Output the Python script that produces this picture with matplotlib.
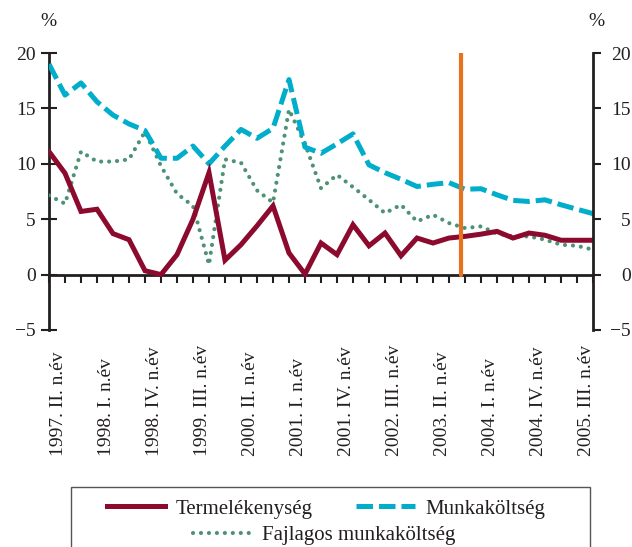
#!/usr/bin/env python3
"""Termelékenység, munkaköltség és fajlagos munkaköltség negyedévente (%)."""

import matplotlib

matplotlib.use("Agg")
import matplotlib.pyplot as plt
from matplotlib.lines import Line2D
from matplotlib.patches import Rectangle

plt.rcParams["font.family"] = ["Liberation Serif", "DejaVu Serif"]
plt.rcParams["font.size"] = 14

TEXT = "#231f20"
RED = "#8b0a2e"
BLUE = "#00aecb"
GREEN = "#4e9275"
ORANGE = "#e8731e"

# 1997 II. n.év ... 2005 IV. n.év, one value per quarter
termelekenyseg = [11.1, 9.15, 5.7, 5.9, 3.7, 3.15, 0.35, 0.0, 1.8, 5.0,
                  9.2, 1.3, 2.7, 4.4, 6.2, 1.95, 0.05, 2.85, 1.8, 4.5,
                  2.6, 3.75, 1.7, 3.3, 2.85, 3.3, 3.45, 3.65, 3.9, 3.3,
                  3.75, 3.55, 3.1, 3.1, 3.1]
munkakoltseg = [19.0, 16.2, 17.3, 15.6, 14.4, 13.6, 13.0, 10.5, 10.5, 11.6,
                10.0, 11.6, 13.1, 12.3, 13.2, 17.6, 11.5, 10.95, 11.8, 12.7,
                9.9, 9.2, 8.6, 7.95, 8.15, 8.3, 7.7, 7.75, 7.2, 6.7,
                6.6, 6.75, 6.3, 5.9, 5.5]
fajlagos = [7.15, 6.4, 11.1, 10.2, 10.2, 10.4, 12.9, 9.8, 7.3, 6.2,
            0.9, 10.4, 10.1, 7.6, 6.5, 14.9, 11.8, 7.8, 9.0, 7.9,
            6.75, 5.55, 6.3, 4.8, 5.4, 4.65, 4.2, 4.35, 3.7, 3.45,
            3.45, 3.15, 2.7, 2.6, 2.25]

# every third quarter is labelled
TICK_LABELS = ["1997. II. n.év", "1998. I. n.év", "1998. IV. n.év",
               "1999. III. n.év", "2000. II. n.év", "2001. I. n.év",
               "2001. IV. n.év", "2002. III. n.év", "2003. II. n.év",
               "2004. I. n.év", "2004. IV. n.év", "2005. III. n.év"]
MARKER_X = 25.75

x = list(range(len(termelekenyseg)))
label_idx = x[::3][:len(TICK_LABELS)]

fig = plt.figure(figsize=(6.32, 5.47), dpi=100)
ax = fig.add_axes([49 / 632, 1 - 330 / 547, 544 / 632, 277 / 547])

red_style = dict(color=RED, lw=3.6, solid_joinstyle="miter")
blue_style = dict(color=BLUE, lw=3.6, linestyle=(0, (3.3, 1.2)), dash_capstyle="butt")
green_style = dict(color=GREEN, lw=3.0, linestyle=(0, (0.01, 1.9)), dash_capstyle="round")

ax.plot(x, fajlagos, **green_style, zorder=3)
ax.plot(x, munkakoltseg, **blue_style, zorder=4)
ax.plot(x, termelekenyseg, **red_style, zorder=5)
ax.axvline(MARKER_X, ymin=0.2, ymax=1.0, color=ORANGE, lw=3, solid_capstyle="round", zorder=6)

ax.set_xlim(0, len(x) - 1)
ax.set_ylim(-5, 20)
ax.set_yticks([-5, 0, 5, 10, 15, 20])
ax.set_yticklabels(["\u22125", "0", "5", "10", "15", "20"])
ax.set_xticks(x)

for side in ("top", "right"):
    ax.spines[side].set_visible(False)
ax.spines["left"].set_linewidth(2)
ax.spines["left"].set_color(TEXT)
ax.spines["bottom"].set_position(("data", 0))
ax.spines["bottom"].set_linewidth(2)
ax.spines["bottom"].set_color(TEXT)
ax.tick_params(axis="x", direction="out", length=6, width=1.5, color=TEXT, labelbottom=False)
ax.tick_params(axis="y", direction="inout", length=11, width=1.5, color=TEXT,
               labelcolor=TEXT, pad=4)

# rotated labels sit a little right of their tick, as in the original
for i, lab in zip(label_idx, TICK_LABELS):
    ax.text(i + 0.58, -0.455, lab, transform=ax.get_xaxis_transform(), rotation=90,
            ha="center", va="bottom", color=TEXT, fontsize=14)

ax2 = ax.twinx()
ax2.set_ylim(-5, 20)
ax2.set_yticks([-5, 0, 5, 10, 15, 20])
ax2.set_yticklabels(["\u22125", "0", "5", "10", "15", "20"])
for side in ("top", "left", "bottom"):
    ax2.spines[side].set_visible(False)
ax2.spines["right"].set_linewidth(2)
ax2.spines["right"].set_color(TEXT)
ax2.tick_params(axis="y", direction="out", length=6, width=1.5, color=TEXT,
                labelcolor=TEXT, pad=21)
for lab in ax2.get_yticklabels():
    lab.set_horizontalalignment("right")

fig.text(48 / 632, 1 - 22 / 547, "%", ha="center", va="center", color=TEXT, fontsize=14)
fig.text(596 / 632, 1 - 22 / 547, "%", ha="center", va="center", color=TEXT, fontsize=14)

# legend: two entries on the first row, one centred below, inside a frame cut by the edge
fig.add_artist(Rectangle((71 / 632, -0.05), 519 / 632, 0.05 + 1 - 487 / 547,
                         transform=fig.transFigure, fill=False, lw=1, edgecolor="#555555"))
h_red = Line2D([], [], **red_style)
h_blue = Line2D([], [], **blue_style)
h_green = Line2D([], [], **green_style)
leg_kw = dict(frameon=False, handlelength=2.8, handletextpad=0.5, fontsize=15,
              labelcolor=TEXT, loc="center", borderpad=0, borderaxespad=0)
fig.legend([h_red, h_blue], ["Termelékenység", "Munkaköltség"], ncol=2,
           columnspacing=2.1, bbox_to_anchor=(326 / 632, 1 - 509 / 547), **leg_kw)
fig.legend([h_green], ["Fajlagos munkaköltség"],
           bbox_to_anchor=(324 / 632, 1 - 535 / 547), **leg_kw)

fig.savefig("out.png", dpi=100)
